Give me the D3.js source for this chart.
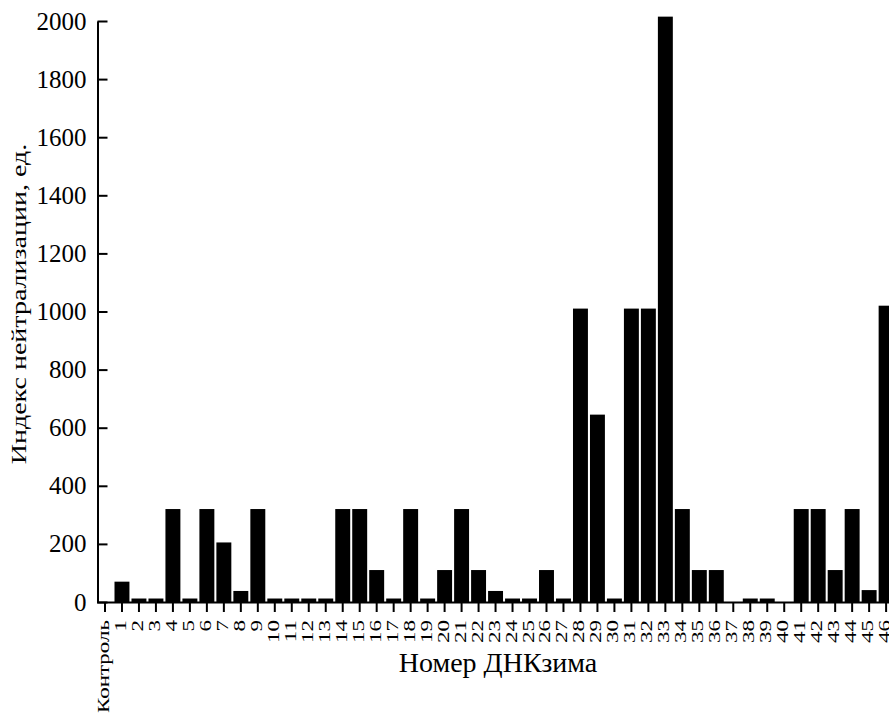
<!DOCTYPE html>
<html>
<head>
<meta charset="utf-8">
<script src="https://cdn.jsdelivr.net/npm/d3@7"></script>
<style>
	body { margin: 0; background: #fff; }
	svg { display: block; }
	svg text { font-family: "Liberation Serif", "Times New Roman", serif; }
</style>
</head>
<body>
<svg></svg>
<script>
const svgWidth = 889;
const svgHeight = 720;

const categories = ["Контроль", "1", "2", "3", "4", "5", "6", "7", "8", "9",
	"10", "11", "12", "13", "14", "15", "16", "17", "18", "19",
	"20", "21", "22", "23", "24", "25", "26", "27", "28", "29",
	"30", "31", "32", "33", "34", "35", "36", "37", "38", "39",
	"40", "41", "42", "43", "44", "45", "46"];
const values = [0, 70, 12, 12, 320, 12, 320, 205, 38, 320,
	12, 12, 12, 12, 320, 320, 110, 12, 320, 12,
	110, 320, 110, 38, 12, 12, 110, 12, 1010, 645,
	12, 1010, 1010, 2015, 320, 110, 110, 0, 12, 12,
	0, 320, 320, 110, 320, 41, 1020];
const yTicks = [0, 200, 400, 600, 800, 1000, 1200, 1400, 1600, 1800, 2000];
const yLabel = "Индекс нейтрализации, ед.";
const xLabel = "Номер ДНКзима";

const svg = d3.select("svg")
	.attr("width", svgWidth)
	.attr("height", svgHeight);

const xScale = d3.scaleBand()
	.domain(categories)
	.range([96.5, 894.6])
	.paddingInner(0.12)
	.paddingOuter(0.06);

const yScale = d3.scaleLinear()
	.domain([0, 2000])
	.range([602, 21]);

// bars
svg.selectAll(".bar")
	.data(categories)
	.enter()
	.append("rect")
	.classed("bar", true)
	.attr("x", d => xScale(d))
	.attr("width", xScale.bandwidth())
	.attr("y", (d, i) => yScale(values[i]))
	.attr("height", (d, i) => yScale(0) - yScale(values[i]))
	.attr("fill", "#000");

// x axis
const xAxis = d3.axisBottom(xScale)
	.tickSize(10)
	.tickSizeOuter(0)
	.tickPadding(0);

const gx = svg.append("g")
	.attr("transform", `translate(0, ${yScale(0)})`)
	.call(xAxis)
	.attr("font-family", null);

gx.selectAll("text")
	.attr("y", 0)
	.attr("dy", null)
	.attr("font-size", 23)
	.attr("fill", "#000")
	.attr("text-anchor", "end")
	.attr("transform", "translate(4, 18) rotate(-90) scale(1, 0.74)");

// y axis
const yAxis = d3.axisLeft(yScale)
	.tickValues(yTicks)
	.tickFormat(d3.format("d"))
	.tickSize(-10)
	.tickSizeOuter(0)
	.tickPadding(11);

const gy = svg.append("g")
	.attr("transform", "translate(97.5, 0)")
	.call(yAxis)
	.attr("font-family", null);

gy.selectAll("text")
	.attr("font-size", 25)
	.attr("fill", "#000");

svg.selectAll(".domain, .tick line")
	.attr("stroke", "#000")
	.attr("stroke-width", 2);

// axes labels
svg.append("text")
	.text(xLabel)
	.attr("x", 498)
	.attr("y", 672)
	.attr("font-size", 28)
	.attr("text-anchor", "middle");

svg.append("text")
	.text(yLabel)
	.attr("transform", "translate(26, 304) rotate(-90) scale(1, 0.74)")
	.attr("font-size", 28)
	.attr("text-anchor", "middle");
</script>
</body>
</html>
